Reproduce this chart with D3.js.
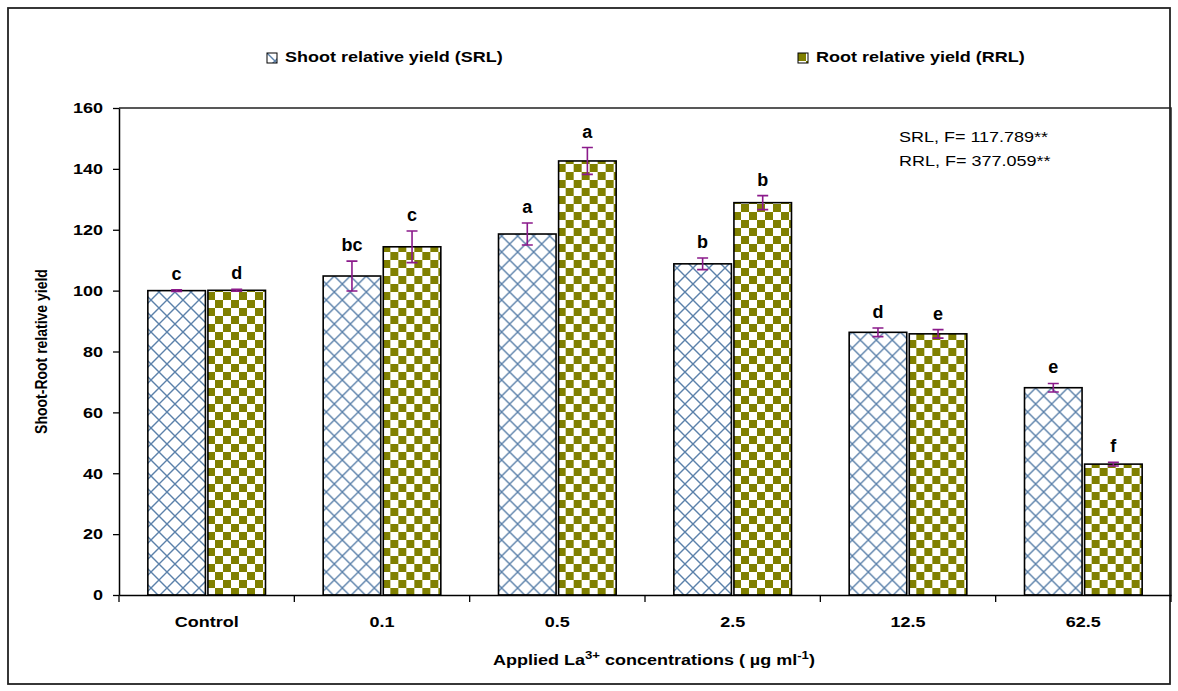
<!DOCTYPE html>
<html>
<head>
<meta charset="utf-8">
<script src="https://cdn.jsdelivr.net/npm/d3@7"></script>
<style>
  body { margin: 0; background: #fff; }
  text { font-family: "Liberation Sans", Arial, sans-serif; }
</style>
</head>
<body>
<svg id="chart" width="1178" height="691"></svg>
<script>
// data
const categories = ["Control", "0.1", "0.5", "2.5", "12.5", "62.5"];
const seriesNames = ["Shoot relative yield (SRL)", "Root relative yield (RRL)"];
const srlValues = [100.0, 104.8, 118.6, 108.8, 86.3, 68.1];
const rrlValues = [100.1, 114.4, 142.6, 128.9, 85.8, 43.0];
const srlErrors = [0.3, 4.9, 3.6, 1.9, 1.4, 1.4];
const rrlErrors = [0.3, 5.2, 4.4, 2.3, 1.4, 0.6];
const srlLetters = ["c", "bc", "a", "b", "d", "e"];
const rrlLetters = ["d", "c", "a", "b", "e", "f"];
const yTicks = [0, 20, 40, 60, 80, 100, 120, 140, 160];
const statLines = ["SRL, F= 117.789**", "RRL, F= 377.059**"];

const margin = { top: 108, right: 7, bottom: 96, left: 119 };
const svgW = 1178, svgH = 691;
const width = svgW - margin.left - margin.right;
const height = svgH - margin.top - margin.bottom;
const stretch = "scale(1.2,1)"; // the picture is a bit wider than tall

const svg = d3.select("#chart");

// patterns for the bars
const defs = svg.append("defs");
const lattice = defs.append("pattern")
    .attr("id", "lattice")
    .attr("patternUnits", "userSpaceOnUse")
    .attr("width", 16).attr("height", 16);
lattice.append("rect").attr("width", 16).attr("height", 16).attr("fill", "#fff");
lattice.append("path")
    .attr("d", "M0,0L16,16M16,0L0,16M-4,12L4,20M12,-4L20,4M-4,4L4,-4M12,20L20,12")
    .attr("stroke", "#5b81aa")
    .attr("stroke-width", 1.4)
    .attr("fill", "none");

const checker = defs.append("pattern")
    .attr("id", "checker")
    .attr("patternUnits", "userSpaceOnUse")
    .attr("width", 16).attr("height", 16);
checker.append("rect").attr("width", 16).attr("height", 16).attr("fill", "#fff");
checker.append("rect").attr("width", 8).attr("height", 8).attr("fill", "#808000");
checker.append("rect").attr("x", 8).attr("y", 8).attr("width", 8).attr("height", 8).attr("fill", "#808000");

const fills = ["url(#lattice)", "url(#checker)"];

// outer frame
svg.append("rect")
    .attr("x", 8).attr("y", 8)
    .attr("width", 1162).attr("height", 676)
    .attr("fill", "none")
    .attr("stroke", "#222")
    .attr("stroke-width", 1.8);

const g = svg.append("g")
    .attr("transform", "translate(" + margin.left + "," + margin.top + ")");

// scales
const x0 = d3.scaleBand().domain(categories).range([0, width]).padding(0);
const x1 = d3.scaleBand().domain([0, 1]).range([0, x0.bandwidth()])
    .paddingInner(0.042).paddingOuter(0.48);
const y = d3.scaleLinear().domain([0, 160]).range([height, 0]);

// plot area border (top and right)
g.append("path")
    .attr("d", "M0,0H" + width + "V" + height)
    .attr("fill", "none")
    .attr("stroke", "#222")
    .attr("stroke-width", 1.5);

const rows = categories.map((c, i) => ({
    cat: c,
    vals: [
        { s: 0, v: srlValues[i], e: srlErrors[i], l: srlLetters[i] },
        { s: 1, v: rrlValues[i], e: rrlErrors[i], l: rrlLetters[i] }
    ]
}));

const groups = g.selectAll(".grp")
    .data(rows)
    .enter().append("g")
    .attr("class", "grp")
    .attr("transform", d => "translate(" + x0(d.cat) + ",0)");

// bars
groups.selectAll("rect")
    .data(d => d.vals)
    .enter().append("rect")
    .attr("x", d => x1(d.s))
    .attr("y", d => y(d.v))
    .attr("width", x1.bandwidth())
    .attr("height", d => height - y(d.v))
    .attr("fill", d => fills[d.s])
    .attr("stroke", "#000")
    .attr("stroke-width", 1.6);

// error bars
const cap = 5.5;
groups.selectAll(".err")
    .data(d => d.vals)
    .enter().append("path")
    .attr("class", "err")
    .attr("d", d => {
        const cx = x1(d.s) + x1.bandwidth() / 2;
        const t = y(d.v + d.e), b = y(d.v - d.e);
        return "M" + (cx - cap) + "," + t + "H" + (cx + cap) +
            "M" + cx + "," + t + "V" + b +
            "M" + (cx - cap) + "," + b + "H" + (cx + cap);
    })
    .attr("stroke", "#8b1a8b")
    .attr("stroke-width", 1.6)
    .attr("fill", "none");

// significance letters
groups.selectAll(".lbl")
    .data(d => d.vals)
    .enter().append("text")
    .attr("class", "lbl")
    .attr("x", d => x1(d.s) + x1.bandwidth() / 2)
    .attr("y", d => y(d.v + d.e) - 10)
    .attr("text-anchor", "middle")
    .style("font-size", "18px")
    .style("font-weight", "bold")
    .text(d => d.l);

// y axis
const yAxis = g.append("g")
    .call(d3.axisLeft(y).tickValues(yTicks).tickSize(6).tickSizeOuter(0));
yAxis.select(".domain").attr("stroke", "#000").attr("stroke-width", 1.5);
yAxis.selectAll(".tick line").attr("stroke", "#000").attr("stroke-width", 1.3);
yAxis.selectAll("text")
    .attr("x", -16 / 1.2)
    .attr("transform", stretch)
    .style("font-size", "15px")
    .style("font-weight", "bold")
    .attr("fill", "#000");

// x axis: labels at band centres, ticks on band edges
const xAxis = g.append("g")
    .attr("transform", "translate(0," + height + ")")
    .call(d3.axisBottom(x0).tickSize(0).tickPadding(21).tickSizeOuter(0));
xAxis.select(".domain").attr("stroke", "#000").attr("stroke-width", 1.5);
xAxis.selectAll("text")
    .attr("transform", stretch)
    .style("font-size", "15px")
    .style("font-weight", "bold")
    .attr("fill", "#000");
xAxis.selectAll(".edge")
    .data(categories.map(c => x0(c)).concat([width]))
    .enter().append("line")
    .attr("class", "edge")
    .attr("x1", d => d).attr("x2", d => d)
    .attr("y1", 0).attr("y2", 7)
    .attr("stroke", "#000")
    .attr("stroke-width", 1.3);

// axis titles
svg.append("text")
    .attr("transform", "translate(47," + (margin.top + height / 2) + ") " + stretch + " rotate(-90)")
    .attr("text-anchor", "middle")
    .style("font-size", "14px")
    .style("font-weight", "bold")
    .text("Shoot-Root relative yield");

const xt = svg.append("text")
    .attr("transform", "translate(654,665) " + stretch)
    .attr("text-anchor", "middle")
    .style("font-size", "15px")
    .style("font-weight", "bold");
xt.append("tspan").text("Applied La");
xt.append("tspan").attr("dy", -6).style("font-size", "11px").text("3+");
xt.append("tspan").attr("dy", 6).text(" concentrations ( \u00b5g ml");
xt.append("tspan").attr("dy", -6).style("font-size", "11px").text("-1");
xt.append("tspan").attr("dy", 6).text(")");

// legend
const legendX = [267, 798];
const legend = svg.selectAll(".leg")
    .data(seriesNames)
    .enter().append("g")
    .attr("class", "leg")
    .attr("transform", (d, i) => "translate(" + legendX[i] + ",53)");
legend.append("rect")
    .attr("width", 10).attr("height", 10)
    .attr("fill", (d, i) => fills[i])
    .attr("stroke", "#000")
    .attr("stroke-width", 1);
legend.append("text")
    .attr("transform", "translate(18,9) " + stretch)
    .style("font-size", "15px")
    .style("font-weight", "bold")
    .text(d => d);

// F statistics
svg.selectAll(".stat")
    .data(statLines)
    .enter().append("text")
    .attr("class", "stat")
    .attr("transform", (d, i) => "translate(899," + (142 + i * 24) + ") " + stretch)
    .style("font-size", "15px")
    .text(d => d);
</script>
</body>
</html>
